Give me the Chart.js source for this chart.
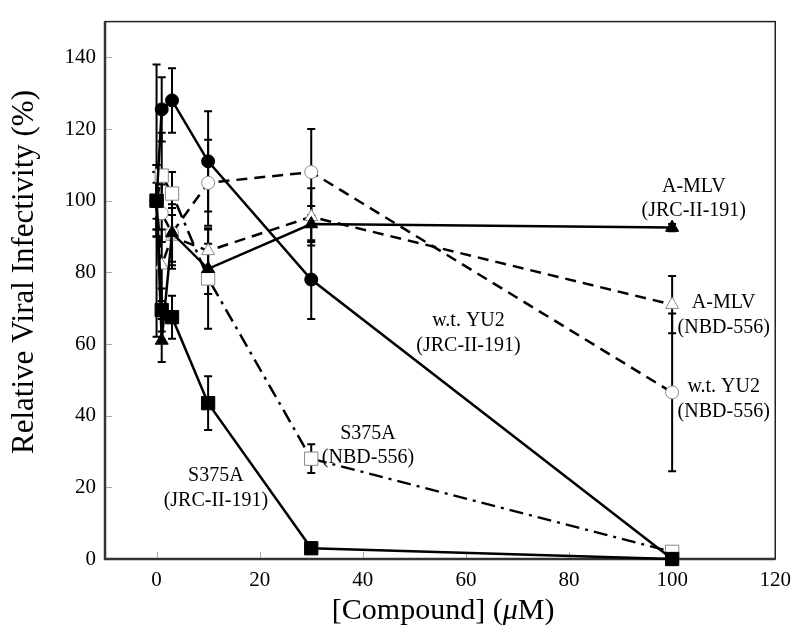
<!DOCTYPE html>
<html>
<head>
<meta charset="utf-8">
<script src="https://cdn.jsdelivr.net/npm/chart.js@4.4.1/dist/chart.umd.min.js"></script>
<style>
  html, body { margin: 0; padding: 0; background: #fff; }
  #wrap { width: 800px; height: 634px; position: relative; }
</style>
</head>
<body>
<div id="wrap"><canvas id="myChart"></canvas></div>
<script>
//Data
const concentrations = [0, 1, 3, 10, 30, 100];
const xTicks = [0, 20, 40, 60, 80, 100, 120];
const yTicks = [0, 20, 40, 60, 80, 100, 120, 140];

const s375aJRC = [100, 69.5, 67.5, 43.5, 3, 0];
const s375aJRCErr = [10, 6, 6, 7.5, 1, 0];
const wtJRC = [100, 125.5, 128, 111, 78, 0];
const wtJRCErr = [38, 9, 9, 14, 11, 0];
const amlvJRC = [100, 61, 91, 81, 93.5, 92.5];
const amlvJRCErr = [8, 6, 10, 7, 5, 1];
const s375aNBD = [100, 107, 102, 78.3, 28, 2];
const s375aNBDErr = [5, 12, 6, 14, 4, 1];
const wtNBD = [100, 96.5, 91, 105, 108, 46.5];
const wtNBDErr = [10, 8, 8, 12, 12, 22];
const amlvNBD = [100, 82, 90, 86, 95.5, 71];
const amlvNBDErr = [8, 10, 8, 6, 8, 8];

//Curve labels, placed in data units
const notes = [
  { x: 104.2, y: 104, lines: ['A-MLV', '(JRC-II-191)'] },
  { x: 110, y: 71.4, lines: ['A-MLV', '(NBD-556)'] },
  { x: 110, y: 48, lines: ['w.t. YU2', '(NBD-556)'] },
  { x: 60.5, y: 66.5, lines: ['w.t. YU2', '(JRC-II-191)'] },
  { x: 41, y: 35, lines: ['S375A', '(NBD-556)'] },
  { x: 11.5, y: 23.2, lines: ['S375A', '(JRC-II-191)'] }
];

const serif = "'Liberation Serif', 'Times New Roman', serif";
const toPoints = arr => arr.map((v, i) => ({ x: concentrations[i], y: v }));

function series(values, errors, style, filled, dash) {
  return {
    data: toPoints(values),
    errors,
    borderColor: '#000',
    borderWidth: 2.5,
    borderDash: dash,
    pointStyle: style,
    pointRadius: style === 'rect' ? 9.4 : (style === 'circle' ? 6.5 : 7.5),
    pointBackgroundColor: filled ? '#000' : '#fff',
    pointBorderColor: filled ? '#000' : '#888',
    pointBorderWidth: 1,
    tension: 0,
    clip: false
  };
}

//error bars, frame and inward ticks go under the curves
const decorPlugin = {
  id: 'decor',
  beforeDatasetsDraw(chart) {
    const { ctx, chartArea: a, scales: { x, y } } = chart;
    ctx.save();
    // tick marks pointing inside
    ctx.strokeStyle = '#aaa';
    ctx.lineWidth = 1;
    xTicks.forEach(v => {
      const px = Math.round(x.getPixelForValue(v)) + 0.5;
      ctx.beginPath(); ctx.moveTo(px, a.bottom); ctx.lineTo(px, a.bottom - 7); ctx.stroke();
    });
    yTicks.forEach(v => {
      const py = Math.round(y.getPixelForValue(v)) + 0.5;
      ctx.beginPath(); ctx.moveTo(a.left, py); ctx.lineTo(a.left + 7, py); ctx.stroke();
    });
    // error bars
    ctx.strokeStyle = '#000';
    ctx.lineWidth = 2;
    chart.data.datasets.forEach(ds => {
      ds.data.forEach((p, i) => {
        const e = ds.errors[i];
        if (!e) return;
        const px = x.getPixelForValue(p.x);
        const top = y.getPixelForValue(p.y + e);
        const bot = y.getPixelForValue(p.y - e);
        ctx.beginPath();
        ctx.moveTo(px, top); ctx.lineTo(px, bot);
        ctx.moveTo(px - 4, top); ctx.lineTo(px + 4, top);
        ctx.moveTo(px - 4, bot); ctx.lineTo(px + 4, bot);
        ctx.stroke();
      });
    });
    // frame
    ctx.strokeStyle = '#222';
    ctx.lineWidth = 1.5;
    ctx.strokeRect(a.left, a.top, a.right - a.left, a.bottom - a.top);
    ctx.strokeStyle = '#333';
    ctx.lineWidth = 2.5;
    ctx.beginPath();
    ctx.moveTo(a.left, a.top); ctx.lineTo(a.left, a.bottom); ctx.lineTo(a.right, a.bottom);
    ctx.stroke();
    ctx.restore();
  },
  afterDraw(chart) {
    const { ctx, chartArea: a, scales: { x, y } } = chart;
    ctx.save();
    ctx.fillStyle = '#000';
    ctx.textAlign = 'center';
    ctx.textBaseline = 'middle';
    ctx.font = '20px ' + serif;
    notes.forEach(n => {
      const px = x.getPixelForValue(n.x);
      const py = y.getPixelForValue(n.y);
      n.lines.forEach((t, k) => ctx.fillText(t, px, py + k * 24.5));
    });
    // y title, sits a little above the middle of the axis
    ctx.save();
    ctx.translate(25, 272);
    ctx.rotate(-Math.PI / 2);
    ctx.font = '31px ' + serif;
    ctx.fillText('Relative Viral Infectivity (%)', 0, 0);
    ctx.restore();
    // x title with italic mu
    const parts = [['[Compound] (', ''], ['\u03bc', 'italic '], ['M)', '']];
    let total = 0;
    parts.forEach(p => { ctx.font = p[1] + '30px ' + serif; total += ctx.measureText(p[0]).width; });
    let cx = (a.left + a.right) / 2 - total / 2 + 3;
    ctx.textAlign = 'left';
    parts.forEach(p => {
      ctx.font = p[1] + '30px ' + serif;
      ctx.fillText(p[0], cx, 611);
      cx += ctx.measureText(p[0]).width;
    });
    ctx.restore();
  }
};

const ctx = document.getElementById('myChart').getContext('2d');

const myChart = new Chart(ctx, {
  type: 'line',
  data: {
    datasets: [
      series(s375aJRC, s375aJRCErr, 'rect', true, []),
      series(wtJRC, wtJRCErr, 'circle', true, []),
      series(amlvJRC, amlvJRCErr, 'triangle', true, []),
      series(s375aNBD, s375aNBDErr, 'rect', false, [14, 6, 3, 6]),
      series(wtNBD, wtNBDErr, 'circle', false, [11, 7]),
      series(amlvNBD, amlvNBDErr, 'triangle', false, [11, 7])
    ]
  },
  options: {
    responsive: true,
    maintainAspectRatio: false,
    animation: false,
    layout: { padding: { top: 15, right: 22, left: 0, bottom: 0 } },
    scales: {
      x: {
        type: 'linear',
        min: -10,
        max: 120,
        grid: { display: false, drawTicks: false },
        border: { display: false },
        afterBuildTicks: s => { s.ticks = xTicks.map(v => ({ value: v })); },
        afterFit: s => { s.height = 75; },
        ticks: { font: { family: serif, size: 21 }, color: '#000', padding: 9, maxRotation: 0 }
      },
      y: {
        min: 0,
        max: 150,
        grid: { display: false, drawTicks: false },
        border: { display: false },
        afterBuildTicks: s => { s.ticks = yTicks.map(v => ({ value: v })); },
        afterFit: s => { s.width = 105; },
        ticks: { font: { family: serif, size: 21 }, color: '#000', padding: 9 }
      }
    },
    plugins: {
      legend: { display: false },
      tooltip: { enabled: false }
    }
  },
  plugins: [decorPlugin]
});
</script>
</body>
</html>
